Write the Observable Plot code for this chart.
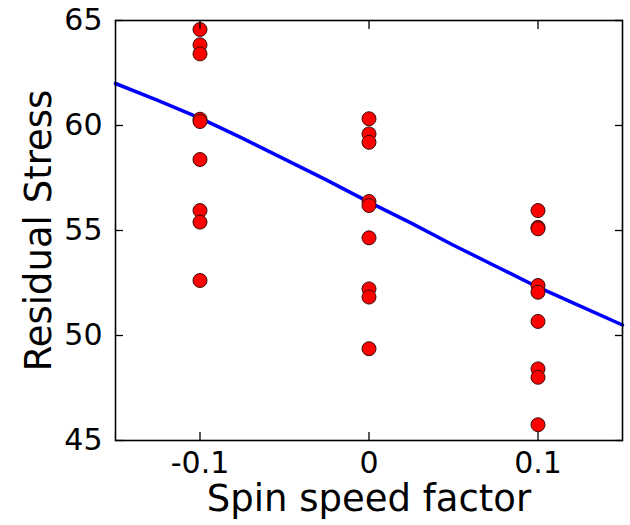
<!DOCTYPE html>
<html>
<head>
<meta charset="utf-8">
<script src="https://cdn.jsdelivr.net/npm/d3@7"></script>
<script src="https://cdn.jsdelivr.net/npm/@observablehq/plot@0.6"></script>
<style>
  body { margin: 0; background: #fff; }
  #chart { width: 630px; height: 525px; }
</style>
</head>
<body>
<div id="chart"></div>
<script>
// Observed residual stress at each spin speed factor level
const spinLevels = [-0.1, 0, 0.1];
const stressAtMinus = [64.57, 63.84, 63.41, 60.3, 60.19, 58.38, 55.95, 55.4, 52.62];
const stressAtZero = [60.32, 59.6, 59.2, 56.38, 56.19, 54.65, 52.22, 51.83, 49.37];
const stressAtPlus = [55.95, 55.15, 55.08, 52.38, 52.06, 50.67, 48.41, 48.01, 45.75];

// Fitted curve
const curveX = [-0.15, -0.125, -0.1, -0.075, -0.05, -0.025, 0, 0.025, 0.05, 0.075, 0.1, 0.125, 0.15];
const curveY = [62.0, 61.2, 60.35, 59.4, 58.4, 57.4, 56.35, 55.35, 54.3, 53.3, 52.3, 51.4, 50.5];

// Axis ticks
const xTicks = [-0.1, 0, 0.1];
const yTicks = [45, 50, 55, 60, 65];
const xTitle = "Spin speed factor";
const yTitle = "Residual Stress";

const points = [];
[stressAtMinus, stressAtZero, stressAtPlus].forEach((arr, i) => {
  arr.forEach(v => points.push({x: spinLevels[i], y: v}));
});
const curve = curveX.map((x, i) => ({x, y: curveY[i]}));

const fmtX = d => d === 0 ? "0" : String(d);
const blank = () => "";
const TICK = 8;

const chart = Plot.plot({
  width: 630,
  height: 525,
  marginLeft: 115,
  marginRight: 8,
  marginTop: 20,
  marginBottom: 85,
  style: {fontFamily: "'DejaVu Sans', sans-serif", color: "#000", background: "#fff"},
  x: {domain: [-0.15, 0.15]},
  y: {domain: [45, 65]},
  marks: [
    Plot.line(curve, {x: "x", y: "y", stroke: "#0000ff", strokeWidth: 3.5}),
    Plot.dot(points, {x: "x", y: "y", r: 7, fill: "#ff0000", stroke: "#3a0a0a", strokeWidth: 1}),
    // inward ticks on all four sides (axis ticks shifted inside the frame)
    Plot.axisX({ticks: xTicks, anchor: "bottom", tickSize: TICK, dy: -TICK, tickFormat: blank, label: null, stroke: "#000", strokeWidth: 1.3}),
    Plot.axisX({ticks: xTicks, anchor: "top", tickSize: TICK, dy: TICK, tickFormat: blank, label: null, stroke: "#000", strokeWidth: 1.3}),
    Plot.axisY({ticks: yTicks, anchor: "left", tickSize: TICK, dx: TICK, tickFormat: blank, label: null, stroke: "#000", strokeWidth: 1.3}),
    Plot.axisY({ticks: yTicks, anchor: "right", tickSize: TICK, dx: -TICK, tickFormat: blank, label: null, stroke: "#000", strokeWidth: 1.3}),
    Plot.frame({stroke: "#000", strokeWidth: 1.6}),
    Plot.axisX({ticks: xTicks, tickSize: 0, tickPadding: 11, tickFormat: fmtX, fontSize: 30, label: null}),
    Plot.axisY({ticks: yTicks, tickSize: 0, tickPadding: 13, fontSize: 30, label: null}),
    Plot.text([xTitle], {frameAnchor: "bottom", dy: 59, lineAnchor: "middle", textAnchor: "middle", fontSize: 37, text: d => d}),
    Plot.text([yTitle], {frameAnchor: "left", dx: -76, rotate: -90, lineAnchor: "middle", textAnchor: "middle", fontSize: 37, text: d => d})
  ]
});
document.getElementById("chart").appendChild(chart);
</script>
</body>
</html>
